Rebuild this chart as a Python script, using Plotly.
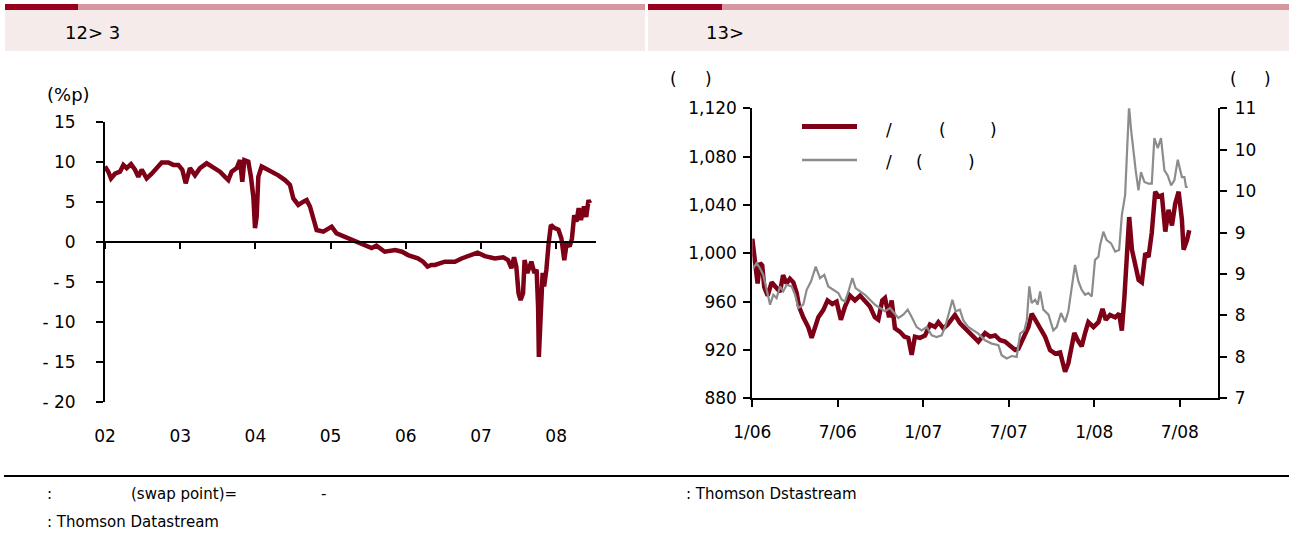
import plotly.graph_objects as go

# ---------------- data ----------------
# Left chart: spread (%p), x in decimal years
left_years = [
    2002.000, 2002.044, 2002.080, 2002.133, 2002.199, 2002.244, 2002.288, 2002.346, 2002.399,
    2002.443, 2002.488, 2002.554, 2002.621, 2002.687, 2002.754, 2002.842, 2002.909, 2002.975,
    2003.028, 2003.073, 2003.130, 2003.197, 2003.263, 2003.352, 2003.441, 2003.529, 2003.596,
    2003.640, 2003.684, 2003.751, 2003.795, 2003.826, 2003.853, 2003.906, 2003.941, 2003.973,
    2003.995, 2004.017, 2004.039, 2004.083,
    2004.128, 2004.216, 2004.305, 2004.394, 2004.460, 2004.505, 2004.571, 2004.638, 2004.682,
    2004.726, 2004.771, 2004.815, 2004.904, 2004.970, 2005.014, 2005.080, 2005.170, 2005.280,
    2005.410, 2005.546, 2005.610, 2005.720, 2005.860, 2005.950, 2006.030, 2006.160, 2006.230,
    2006.290, 2006.340,
    2006.388, 2006.520, 2006.654, 2006.742, 2006.850, 2006.955, 2007.052, 2007.185, 2007.296,
    2007.360, 2007.405, 2007.440, 2007.470, 2007.500, 2007.527, 2007.560, 2007.580, 2007.617,
    2007.670, 2007.710, 2007.740, 2007.760, 2007.770, 2007.800, 2007.820, 2007.840, 2007.870,
    2007.900, 2007.930, 2007.980, 2008.030, 2008.070, 2008.108, 2008.140, 2008.180, 2008.210,
    2008.240, 2008.270, 2008.300, 2008.330, 2008.370, 2008.400, 2008.430, 2008.450,
]
left_values = [
    9.4, 8.75, 7.9, 8.5, 8.75, 9.6, 9.2, 9.7, 9.0,
    8.1, 9.0, 7.9, 8.5, 9.2, 9.9, 9.9, 9.6, 9.6,
    9.0, 7.3, 9.2, 8.3, 9.2, 9.8, 9.2, 8.75, 8.1,
    7.7, 8.75, 9.2, 10.2, 7.5, 10.2, 10.0, 8.1, 5.6,
    1.7, 3.1, 8.1, 9.4,
    9.17, 8.75, 8.3, 7.7, 7.09, 5.4, 4.6, 5.0, 5.2,
    4.4, 2.7, 1.46, 1.25, 1.67, 1.88, 1.04, 0.71, 0.21,
    -0.2, -0.8, -0.5, -1.25, -1.04, -1.25, -1.67, -2.08, -2.5,
    -3.1, -2.9,
    -2.9, -2.5, -2.5, -2.1, -1.8, -1.37, -1.8, -2.1, -1.96,
    -2.3, -3.3, -1.96, -3.1, -6.45, -7.3, -6.45, -2.3, -3.9,
    -2.5, -3.9, -3.5, -8.2, -14.4, -9.0, -3.9, -5.6, -3.5,
    -0.2, 2.1, 1.7, 1.5, 0.4, -2.3, -0.2, -0.6, 0.4,
    3.3, 2.5, 4.2, 2.7, 4.4, 3.1, 5.2, 4.8,
]
left_tick_years = [2002, 2003, 2004, 2005, 2006, 2007, 2008]
left_tick_text = ["02", "03", "04", "05", "06", "07", "08"]
left_y_ticks = [15, 10, 5, 0, -5, -10, -15, -20]
left_y_text = ["15", "10", "5", "0", "- 5", "- 10", "- 15", "- 20"]

# Right chart: red series (left axis)
red_years = [
    2006.000, 2006.016, 2006.031, 2006.045, 2006.058, 2006.070, 2006.090, 2006.113, 2006.143,
    2006.162, 2006.180, 2006.200, 2006.220, 2006.240, 2006.260, 2006.273, 2006.298, 2006.327,
    2006.347, 2006.366, 2006.386, 2006.415, 2006.440, 2006.468, 2006.493, 2006.518, 2006.542,
    2006.571, 2006.600, 2006.630, 2006.659, 2006.688, 2006.717, 2006.737, 2006.760, 2006.776,
    2006.800, 2006.815, 2006.834, 2006.864, 2006.890, 2006.912, 2006.932, 2006.951, 2006.980,
    2007.010, 2007.039, 2007.068, 2007.088, 2007.117, 2007.142, 2007.165, 2007.185, 2007.215,
    2007.244, 2007.283, 2007.322,
    2007.361, 2007.390, 2007.420, 2007.450, 2007.478, 2007.507, 2007.537, 2007.556, 2007.576,
    2007.595, 2007.615, 2007.634, 2007.654, 2007.683, 2007.712, 2007.741, 2007.771, 2007.800,
    2007.819, 2007.829, 2007.848, 2007.864, 2007.883, 2007.903, 2007.926, 2007.946, 2007.965,
    2007.995, 2008.024, 2008.048, 2008.067, 2008.092, 2008.122, 2008.145, 2008.161, 2008.176,
    2008.190, 2008.204, 2008.220, 2008.239, 2008.259, 2008.278, 2008.298, 2008.317, 2008.336,
    2008.356, 2008.376, 2008.395, 2008.415, 2008.434, 2008.454, 2008.473, 2008.493, 2008.512,
    2008.522, 2008.542, 2008.555,
]
red_values = [
    1012, 989, 975, 992, 990, 972, 965, 976, 971,
    968, 982, 975, 979, 976, 967, 956, 947, 939,
    930, 939, 947, 953, 961, 958, 960, 945, 956,
    965, 961, 965, 961, 956, 947, 945, 961, 963,
    947, 961, 938, 935, 931, 930, 916, 931, 930,
    932, 941, 939, 943, 938, 941, 945, 949, 942,
    938, 932, 927,
    934, 931, 932, 928, 927, 923, 920, 921, 927,
    934, 939, 950, 945, 939, 931, 920, 917, 918,
    909, 902, 909, 920, 934, 928, 923, 934, 943,
    939, 943, 954, 945, 949, 947, 950, 936, 964,
    997, 1030, 1003, 992, 978, 976, 1000, 997, 1017,
    1051, 1047, 1048, 1018, 1036, 1023, 1041, 1051, 1028,
    1003, 1011, 1019,
]
# Right chart: gray series (right axis)
gray_years = [
    2006.006, 2006.025, 2006.045, 2006.064, 2006.084, 2006.104, 2006.123, 2006.142, 2006.162,
    2006.181, 2006.201, 2006.230, 2006.250, 2006.269, 2006.298, 2006.318, 2006.343, 2006.371,
    2006.396, 2006.421, 2006.444, 2006.474, 2006.503, 2006.523, 2006.542, 2006.565, 2006.585,
    2006.604, 2006.630, 2006.659, 2006.688, 2006.717, 2006.747, 2006.776, 2006.805, 2006.830,
    2006.854, 2006.883, 2006.909, 2006.932, 2006.961, 2006.990, 2007.020, 2007.049, 2007.078,
    2007.107, 2007.127, 2007.150, 2007.170, 2007.189, 2007.214, 2007.234, 2007.263, 2007.293,
    2007.322, 2007.351,
    2007.361, 2007.400, 2007.439, 2007.458, 2007.488, 2007.517, 2007.546, 2007.566, 2007.591,
    2007.605, 2007.620, 2007.634, 2007.654, 2007.669, 2007.683, 2007.702, 2007.732, 2007.760,
    2007.780, 2007.805, 2007.829, 2007.848, 2007.868, 2007.887, 2007.907, 2007.926, 2007.946,
    2007.965, 2007.985, 2008.004, 2008.024, 2008.034, 2008.053, 2008.072, 2008.098, 2008.122,
    2008.145, 2008.161, 2008.180, 2008.195, 2008.203, 2008.215, 2008.228, 2008.242, 2008.258,
    2008.273, 2008.293, 2008.317, 2008.336, 2008.351, 2008.371, 2008.390, 2008.410, 2008.429,
    2008.449, 2008.468, 2008.488, 2008.512, 2008.527, 2008.536, 2008.546,
]
gray_values = [
    8.57, 8.63, 8.57, 8.49, 8.31, 8.13, 8.25, 8.21, 8.35,
    8.29, 8.37, 8.35, 8.25, 8.09, 8.13, 8.31, 8.41, 8.59,
    8.45, 8.49, 8.35, 8.31, 8.27, 8.19, 8.17, 8.31, 8.45,
    8.33, 8.29, 8.25, 8.19, 8.13, 8.09, 8.05, 8.09, 8.03,
    7.97, 8.01, 8.07, 7.98, 7.86, 7.82, 7.86, 7.76, 7.74,
    7.76, 7.86, 8.03, 8.19, 8.05, 8.07, 7.94, 7.86, 7.82,
    7.78, 7.72,
    7.70, 7.66, 7.64, 7.52, 7.48, 7.51, 7.50, 7.78, 7.82,
    7.94, 8.35, 8.15, 8.19, 8.13, 8.29, 8.07, 8.01, 7.82,
    7.86, 8.03, 7.92, 8.05, 8.33, 8.61, 8.41, 8.31, 8.25,
    8.27, 8.23, 8.67, 8.71, 8.85, 9.01, 8.91, 8.87, 8.77,
    8.79, 9.21, 9.45, 10.12, 10.52, 10.24, 9.96, 9.75, 9.51,
    9.73, 9.61, 9.59, 9.59, 10.14, 10.02, 10.14, 9.75, 9.69,
    9.57, 9.63, 9.88, 9.67, 9.67, 9.55, 9.55,
]
right_tick_years = [2006.0, 2006.5, 2007.0, 2007.5, 2008.0, 2008.5]
right_tick_text = ["1/06", "7/06", "1/07", "7/07", "1/08", "7/08"]
right_left_ticks = [880, 920, 960, 1000, 1040, 1080, 1120]
right_left_text = ["880", "920", "960", "1,000", "1,040", "1,080", "1,120"]
right_right_ticks = [7.0, 7.5, 8.0, 8.5, 9.0, 9.5, 10.0, 10.5]
right_right_text = ["7", "8", "8", "9", "9", "10", "10", "11"]

# ---------------- layout helpers ----------------
W, H = 1289, 535
def X(px):
    return px / W
def Y(py):
    return 1 - py / H

RED = "#7D0017"
GRAY = "#8C8C8C"
FONT = "DejaVu Sans, Liberation Sans, Arial, sans-serif"

fig = go.Figure()
fig.add_trace(go.Scatter(x=left_years, y=left_values, mode="lines",
                         line=dict(color=RED, width=4.5), xaxis="x", yaxis="y",
                         showlegend=False, hoverinfo="skip"))
fig.add_trace(go.Scatter(x=[2002], y=[None], mode="lines", xaxis="x2", yaxis="y",
                         showlegend=False, hoverinfo="skip"))
fig.add_trace(go.Scatter(x=red_years, y=red_values, mode="lines",
                         line=dict(color=RED, width=4.5), xaxis="x3", yaxis="y3",
                         showlegend=False, hoverinfo="skip"))
fig.add_trace(go.Scatter(x=gray_years, y=gray_values, mode="lines",
                         line=dict(color=GRAY, width=2.2), xaxis="x3", yaxis="y4",
                         showlegend=False, hoverinfo="skip"))

axis_common = dict(showgrid=False, zeroline=False, linecolor="black", tickcolor="black",
                   tickfont=dict(family=FONT, size=17, color="black"))

fig.update_layout(
    width=W, height=H, margin=dict(l=0, r=0, t=0, b=0, pad=0, autoexpand=False),
    paper_bgcolor="white", plot_bgcolor="rgba(0,0,0,0)",
    font=dict(family=FONT, size=17, color="black"),
    showlegend=False,
    xaxis=dict(domain=[X(105), X(596)], range=[2002.0, 2008.53], anchor="y",
               tickvals=left_tick_years, ticktext=left_tick_text, showline=False,
               ticks="", ticklabelstandoff=22, **axis_common),
    xaxis2=dict(overlaying="x", anchor="free", position=Y(241.7), range=[2002.0, 2008.53],
                tickvals=left_tick_years, showticklabels=False, showline=True, linewidth=2,
                ticks="outside", ticklen=6, tickwidth=2, **axis_common),
    yaxis=dict(domain=[Y(401.7), Y(121.7)], range=[-20, 15], anchor="x",
               tickvals=left_y_ticks, ticktext=left_y_text, showline=True, linewidth=2,
               ticks="outside", ticklen=7, tickwidth=2, ticklabelstandoff=17, **axis_common),
    xaxis3=dict(domain=[X(752.3), X(1218.3)], range=[2006.0, 2008.725], anchor="y3",
                tickvals=right_tick_years, ticktext=right_tick_text, showline=True, linewidth=2,
                ticks="outside", ticklen=7, tickwidth=2, ticklabelstandoff=10, **axis_common),
    yaxis3=dict(domain=[Y(398.3), Y(108.3)], range=[880, 1120], anchor="x3",
                tickvals=right_left_ticks, ticktext=right_left_text, showline=True, linewidth=2,
                ticks="outside", ticklen=7, tickwidth=2, ticklabelstandoff=3, **axis_common),
    yaxis4=dict(overlaying="y3", side="right", anchor="x3", range=[7, 10.5],
                tickvals=right_right_ticks, ticktext=right_right_text, showline=True, linewidth=2,
                ticks="outside", ticklen=7, tickwidth=2, ticklabelstandoff=4, **axis_common),
)

shapes = []
def rect(x0, y0, x1, y1, color):
    shapes.append(dict(type="rect", xref="paper", yref="paper", x0=X(x0), x1=X(x1),
                       y0=Y(y1), y1=Y(y0), fillcolor=color, line=dict(width=0), layer="below"))
def hline(x0, x1, y, color, width):
    shapes.append(dict(type="line", xref="paper", yref="paper", x0=X(x0), x1=X(x1),
                       y0=Y(y), y1=Y(y), line=dict(color=color, width=width)))

# header bands
rect(5, 10, 645, 51, "#F5EBEB")
rect(5, 4, 78, 10, "#990020")
rect(78, 4, 645, 10, "#D597A0")
rect(648, 10, 1289, 51, "#F5EBEB")
rect(648, 4, 722, 10, "#990020")
rect(722, 4, 1289, 10, "#D597A0")
# footer rule
hline(4, 1289, 476, "black", 2)
# legend keys
hline(802, 857, 126.5, RED, 5)
hline(802, 857, 160, GRAY, 2.5)
fig.update_layout(shapes=shapes)

ann = []
def text(x, y, s, size=17, anchor="left"):
    ann.append(dict(xref="paper", yref="paper", x=X(x), y=Y(y), text=s, showarrow=False,
                    xanchor=anchor, yanchor="middle",
                    font=dict(family=FONT, size=size, color="black")))

text(63, 32, "12> 3", size=18)
text(704, 32, "13>", size=18)
text(45, 94, "(%p)", size=18)
text(668, 79, "(")
text(703, 79, ")")
text(1228, 79, "(")
text(1262, 79, ")")
# legend texts
text(884, 130, "/")
text(937, 130, "(")
text(988, 130, ")")
text(884, 162, "/")
text(914, 162, "(")
text(966, 162, ")")
# footer texts
text(45, 494, ":", size=15)
text(129, 494, "(swap point)=", size=15)
text(319, 494, "-", size=15)
text(684, 494, ": Thomson Dstastream", size=15)
text(45, 522, ": Thomson Datastream", size=15)
fig.update_layout(annotations=ann)

fig.write_html("out.html",
               config={"displayModeBar": False, "responsive": False},
               post_script="document.body.style.margin='0';document.body.style.overflow='hidden';")
